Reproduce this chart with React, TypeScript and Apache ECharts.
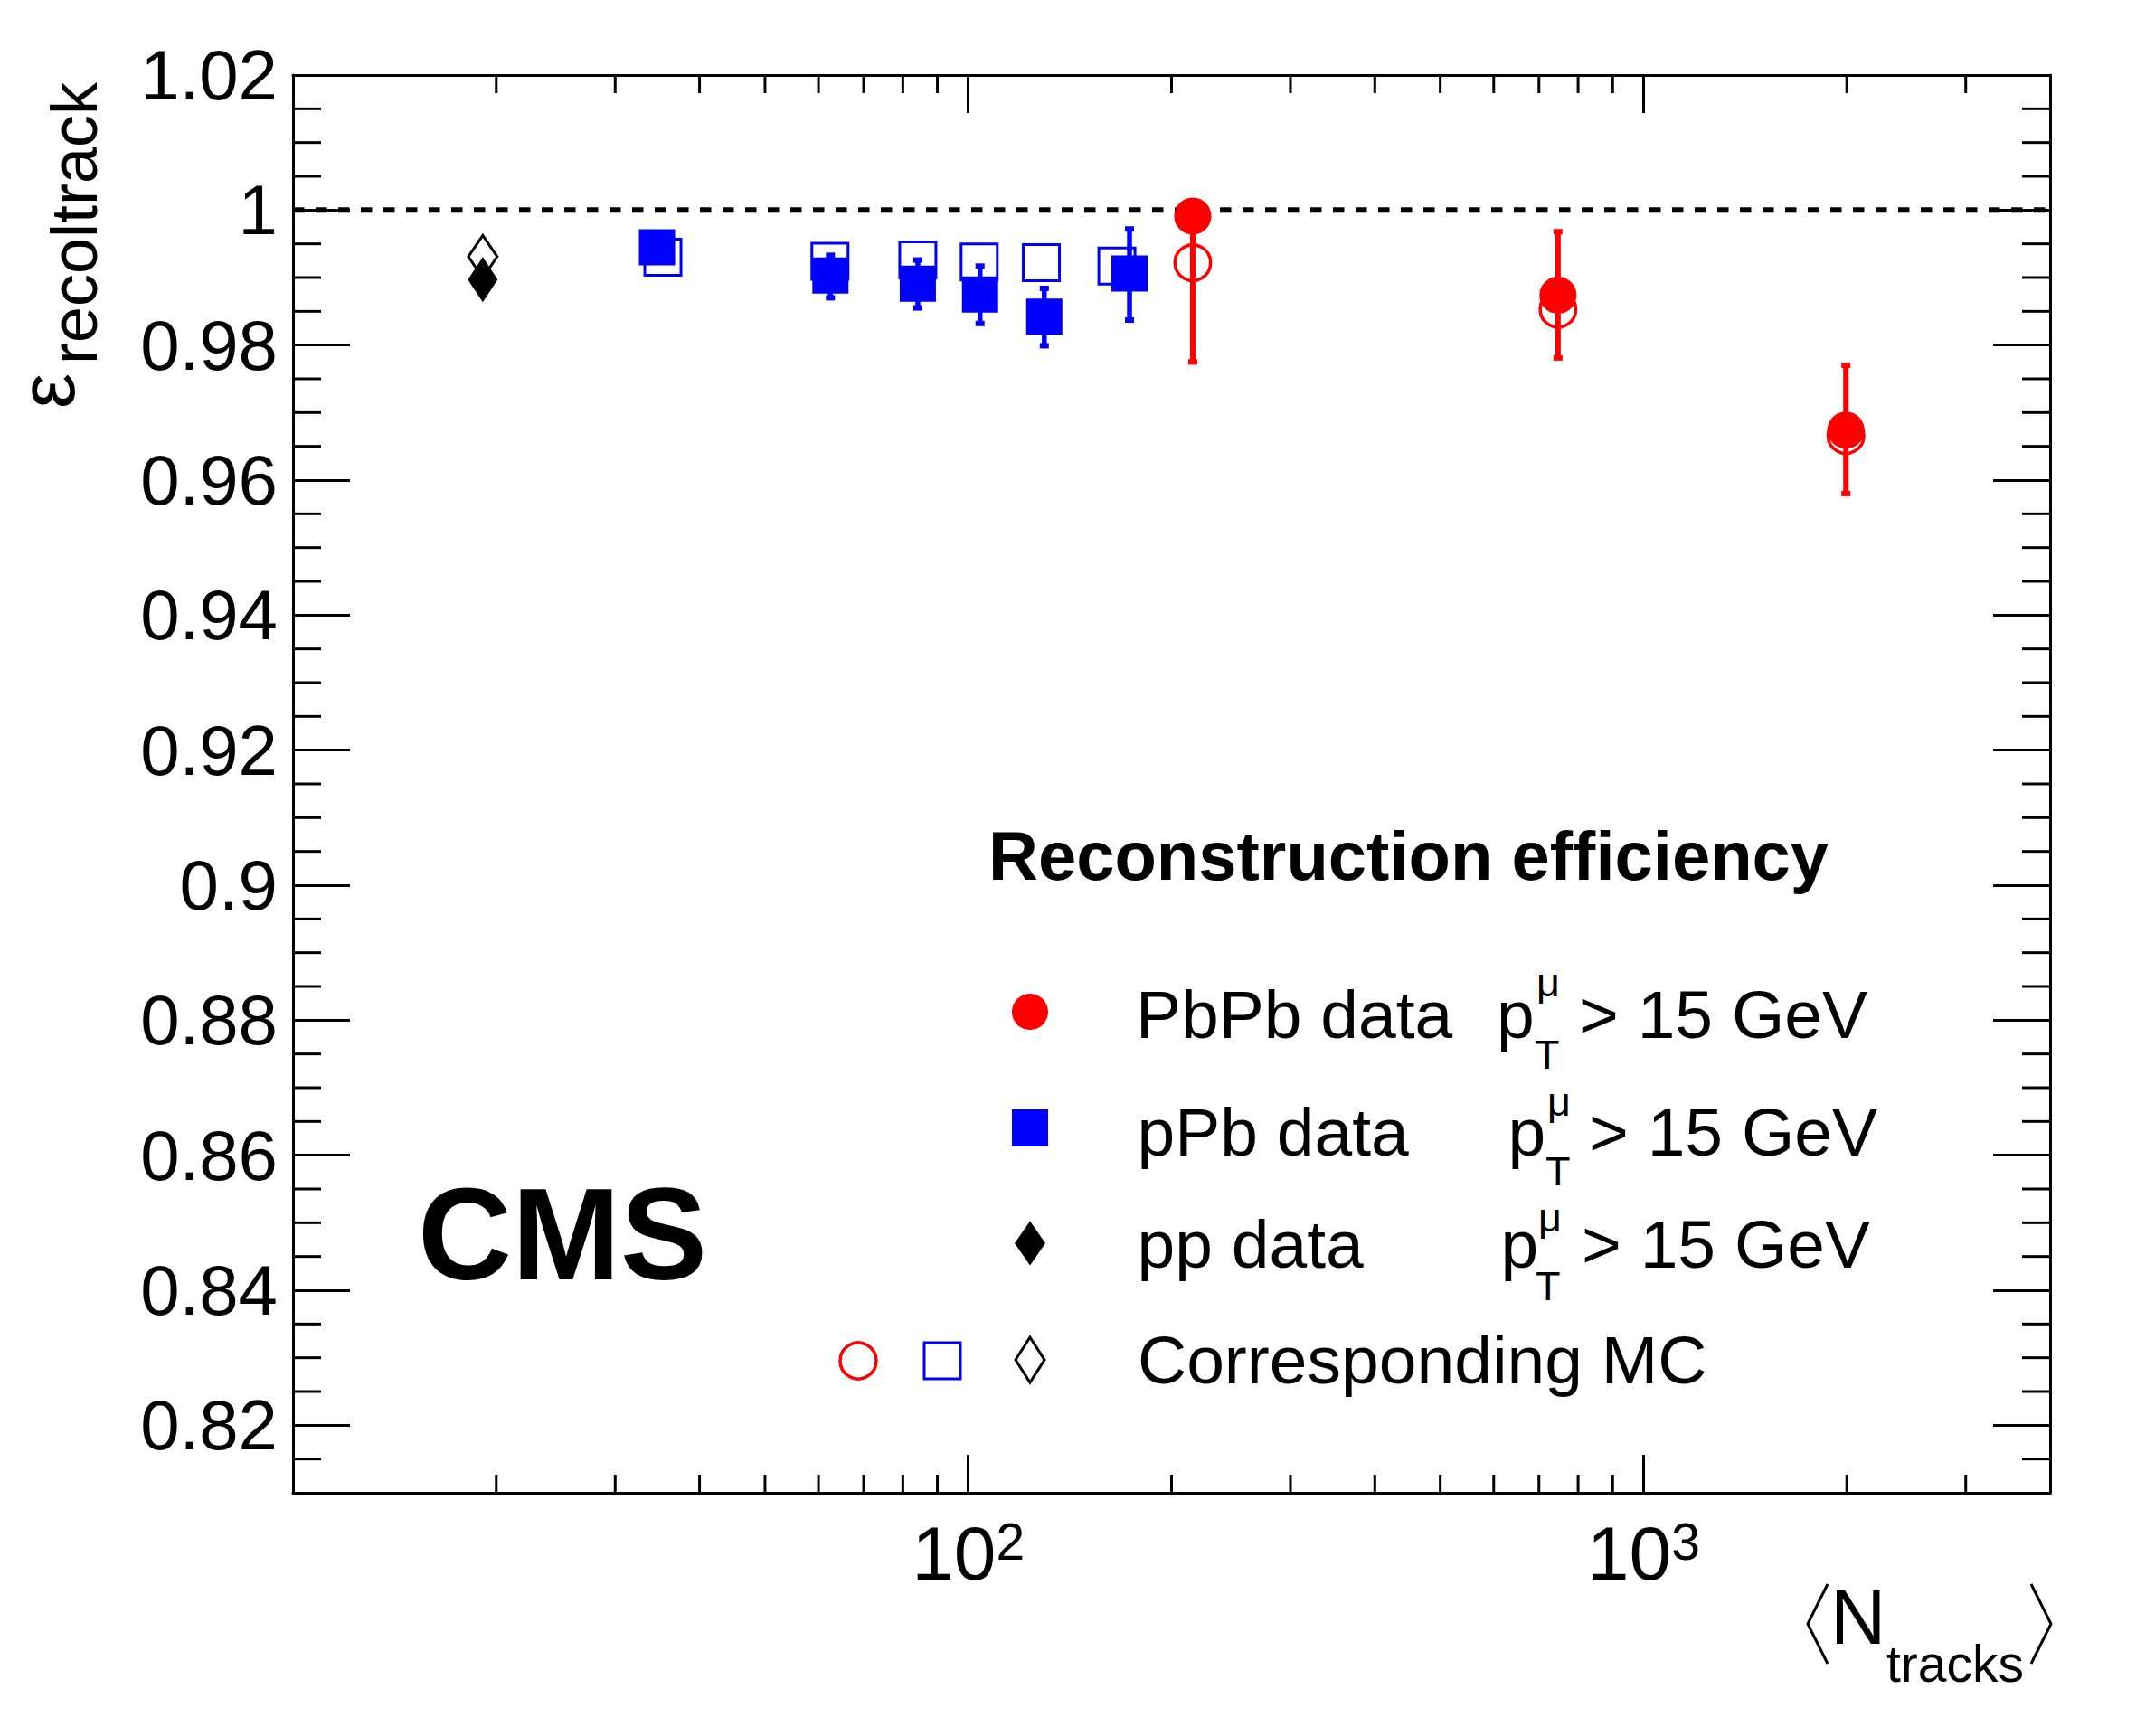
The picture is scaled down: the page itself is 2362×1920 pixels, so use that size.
import React, { useEffect, useRef } from 'react';
import * as echarts from 'echarts';

const FONT = "'Liberation Sans', Arial, Helvetica, sans-serif";

// ---- axis ranges & ticks ----
const xMin = 10;
const xMax = 4000;
const yMin = 0.81;
const yMax = 1.02;
const refLine = 1.0;
const xMinorTicks = [20, 30, 40, 50, 60, 70, 80, 90, 200, 300, 400, 500, 600, 700, 800, 900, 2000, 3000];
const yMajorTicks = [0.82, 0.84, 0.86, 0.88, 0.9, 0.92, 0.94, 0.96, 0.98, 1.0, 1.02];
const yMinorTicks: number[] = [];
for (let i = 163; i <= 203; i++) {
  if (i % 4 !== 0) yMinorTicks.push(Math.round(i * 5) / 1000);
}

// ---- data ----
const ppX = [19.1];
const ppY = [0.9897];
const ppMcY = [0.9931];

const pPbX = [34.6, 62.5, 84.2, 104.1, 129.6, 173.3];
const pPbY = [0.9945, 0.9903, 0.9891, 0.9875, 0.9842, 0.9906];
const pPbErrUp = [0, 0.003, 0.0035, 0.0042, 0.0042, 0.0066];
const pPbErrDown = [0, 0.0033, 0.0036, 0.0043, 0.0043, 0.0069];
const pPbMcX = [35.3, 62.4, 84.2, 103.8, 128.3, 166];
const pPbMcY = [0.993, 0.9924, 0.9926, 0.9923, 0.9922, 0.9917];

const PbPbX = [215, 747, 1994];
const PbPbY = [0.9991, 0.9874, 0.9674];
const PbPbErrUp = [0.0009, 0.0094, 0.0096];
const PbPbErrDown = [0.0216, 0.0093, 0.0094];
const PbPbMcY = [0.9922, 0.9853, 0.9666];

// ---- texts ----
const legendTitle = 'Reconstruction efficiency';
const legendLabels = ['PbPb data', 'pPb data', 'pp data', 'Corresponding MC'];
const cutLabel = '> 15 GeV';
const experiment = 'CMS';

const RED = '#ff0000';
const BLUE = '#0000ff';

function txt(text: string, x: number, base: number, size: number, extra: any = {}) {
  return {
    type: 'text',
    x,
    y: base - 0.3465 * size,
    z: 100,
    silent: true,
    style: {
      text,
      fontSize: size,
      fontFamily: FONT,
      fill: '#000',
      align: 'left',
      verticalAlign: 'middle',
      textAlign: 'left',
      textVerticalAlign: 'middle',
      ...extra,
    },
  };
}

function ptLabel(px: number, base: number, muX: number, muBase: number, tX: number, tBase: number, gtX: number) {
  return [
    txt('p', px, base, 75),
    txt('μ', muX, muBase, 45, { lineHeight: 36 }),
    txt('T', tX, tBase, 45, { lineHeight: 36 }),
    txt(cutLabel, gtX, base, 75),
  ];
}

function diamond(cx: number, cy: number, w: number, h: number) {
  return [
    [cx, cy - h / 2],
    [cx + w / 2, cy],
    [cx, cy + h / 2],
    [cx - w / 2, cy],
  ];
}

function errorBarSeries(xs: number[], ys: number[], up: number[], down: number[], color: string, width: number) {
  return {
    type: 'custom',
    silent: true,
    z: 4,
    clip: false,
    data: xs.map((x, i) => [x, ys[i], ys[i] - down[i], ys[i] + up[i]]),
    renderItem: (params: any, api: any) => {
      const x = api.value(0);
      const y = api.value(1);
      const lo = api.value(2);
      const hi = api.value(3);
      const pHi = api.coord([x, hi]);
      const pLo = api.coord([x, lo]);
      const children: any[] = [];
      if (hi - lo > 0) {
        children.push({
          type: 'line',
          shape: { x1: pHi[0], y1: pHi[1], x2: pLo[0], y2: pLo[1] },
          style: { stroke: color, lineWidth: width },
        });
        if (hi > y) children.push({ type: 'rect', shape: { x: pHi[0] - 5, y: pHi[1] - 3, width: 10, height: 6 }, style: { fill: color } });
        if (lo < y) children.push({ type: 'rect', shape: { x: pLo[0] - 5, y: pLo[1] - 3, width: 10, height: 6 }, style: { fill: color } });
      }
      return { type: 'group', children };
    },
  };
}

function fmtY(v: number) {
  return String(Math.round(v * 100) / 100);
}

function fmtX(v: number) {
  if (Math.abs(v - 100) < 1e-6) return '{b|10}{s|2}';
  if (Math.abs(v - 1000) < 1e-6) return '{b|10}{s|3}';
  return '';
}

export default function App() {
  const ref = useRef<HTMLDivElement>(null);

  useEffect(() => {
    if (!ref.current) return;
    const chart = echarts.init(ref.current, undefined, { renderer: 'svg' });

    const axisLine = { show: true, onZero: false, lineStyle: { color: '#000', width: 3 } };

    const graphic: any[] = [
      // y-axis title (rotated)
      { ...txt('ε', 0, 0, 88, { lineHeight: 60 }), x: 82 - 0.3465 * 88, y: 452, rotation: Math.PI / 2 },
      { ...txt('recoltrack', 0, 0, 72, { lineHeight: 60 }), x: 107 - 0.3465 * 72, y: 403, rotation: Math.PI / 2 },
      // x-axis title
      txt('N', 2024, 1818, 85),
      txt('tracks', 2086, 1860, 57),
      {
        type: 'polyline', z: 100, silent: true,
        shape: { points: [[2021, 1752], [1999, 1796], [2021, 1840]] },
        style: { stroke: '#000', lineWidth: 3, fill: 'none' },
      },
      {
        type: 'polyline', z: 100, silent: true,
        shape: { points: [[2246, 1752], [2268, 1796], [2246, 1840]] },
        style: { stroke: '#000', lineWidth: 3, fill: 'none' },
      },
      // CMS
      txt(experiment, 462, 1415, 144, { fontWeight: 'bold' }),
      // legend
      txt(legendTitle, 1093, 972.7, 76, { fontWeight: 'bold' }),
      txt(legendLabels[0], 1256, 1148, 75),
      ...ptLabel(1655, 1148, 1699, 1102, 1697, 1182, 1746),
      txt(legendLabels[1], 1257.5, 1277.7, 75),
      ...ptLabel(1667.5, 1277.7, 1711, 1234, 1709, 1311, 1757),
      txt(legendLabels[2], 1257.5, 1402.3, 75),
      ...ptLabel(1659.5, 1402.3, 1701, 1362, 1698, 1438, 1749),
      txt(legendLabels[3], 1258, 1530, 75),
      // legend markers
      { type: 'circle', z: 100, silent: true, shape: { cx: 1139, cy: 1119, r: 20 }, style: { fill: RED } },
      { type: 'rect', z: 100, silent: true, shape: { x: 1119, y: 1227, width: 40, height: 41 }, style: { fill: BLUE } },
      { type: 'polygon', z: 100, silent: true, shape: { points: diamond(1139, 1375, 34, 49) }, style: { fill: '#000' } },
      { type: 'circle', z: 100, silent: true, shape: { cx: 949, cy: 1505, r: 20 }, style: { fill: 'none', stroke: RED, lineWidth: 3.5 } },
      { type: 'rect', z: 100, silent: true, shape: { x: 1022, y: 1485, width: 40, height: 40 }, style: { fill: 'none', stroke: BLUE, lineWidth: 3 } },
      { type: 'polygon', z: 100, silent: true, shape: { points: diamond(1139, 1504, 32, 50) }, style: { fill: 'none', stroke: '#000', lineWidth: 3 } },
    ];

    const option: any = {
      animation: false,
      backgroundColor: '#fff',
      grid: { left: 324, top: 83, width: 1943, height: 1568, containLabel: false },
      xAxis: [
        {
          type: 'log', logBase: 10, min: xMin, max: xMax, position: 'bottom',
          axisLine,
          axisTick: { show: true, inside: true, length: 42, lineStyle: { color: '#000', width: 3 } },
          axisLabel: {
            show: true, margin: 25, color: '#000', formatter: fmtX,
            showMinLabel: false, showMaxLabel: false,
            rich: {
              b: { fontSize: 84, lineHeight: 84, fontFamily: FONT, color: '#000', padding: [15, 0, 0, 0], verticalAlign: 'bottom' },
              s: { fontSize: 57, lineHeight: 57, fontFamily: FONT, color: '#000', verticalAlign: 'top' },
            },
          },
          splitLine: { show: false },
          minorTick: { show: false },
        },
        {
          type: 'log', logBase: 10, min: xMin, max: xMax, position: 'top',
          axisLine,
          axisTick: { show: true, inside: true, length: 42, lineStyle: { color: '#000', width: 3 } },
          axisLabel: { show: false },
          splitLine: { show: false },
        },
      ],
      yAxis: [
        {
          type: 'value', min: yMin, max: yMax, position: 'left',
          axisLine,
          axisTick: { show: true, inside: true, length: 63, customValues: yMajorTicks, lineStyle: { color: '#000', width: 3 } },
          axisLabel: {
            show: true, margin: 17, customValues: yMajorTicks, formatter: fmtY,
            fontSize: 78, fontFamily: FONT, color: '#000',
          },
          splitLine: { show: false },
        },
        {
          type: 'value', min: yMin, max: yMax, position: 'right',
          axisLine,
          axisTick: { show: true, inside: true, length: 63, customValues: yMajorTicks, lineStyle: { color: '#000', width: 3 } },
          axisLabel: { show: false },
          splitLine: { show: false },
        },
      ],
      series: [
        // reference line at 1
        {
          type: 'line', silent: true, z: 2,
          data: [[xMin, refLine], [xMax, refLine]],
          symbol: 'none',
          lineStyle: { color: '#000', width: 6, type: [12.5, 12.5], opacity: 1 },
        },
        // MC markers
        {
          type: 'scatter', name: 'pp MC', silent: true, z: 3,
          data: ppX.map((x, i) => [x, ppMcY[i]]),
          symbol: 'diamond', symbolSize: [32, 47],
          itemStyle: { color: 'rgba(0,0,0,0)', borderColor: '#000', borderWidth: 3, opacity: 1 },
        },
        {
          type: 'scatter', name: 'pPb MC', silent: true, z: 3,
          data: pPbMcX.map((x, i) => [x, pPbMcY[i]]),
          symbol: 'rect', symbolSize: 40,
          itemStyle: { color: 'rgba(0,0,0,0)', borderColor: BLUE, borderWidth: 3, opacity: 1 },
        },
        {
          type: 'scatter', name: 'PbPb MC', silent: true, z: 3,
          data: PbPbX.map((x, i) => [x, PbPbMcY[i]]),
          symbol: 'circle', symbolSize: 39.5,
          itemStyle: { color: 'rgba(0,0,0,0)', borderColor: RED, borderWidth: 3.5, opacity: 1 },
        },
        // error bars
        errorBarSeries(pPbX, pPbY, pPbErrUp, pPbErrDown, BLUE, 5.5),
        errorBarSeries(PbPbX, PbPbY, PbPbErrUp, PbPbErrDown, RED, 6),
        // data markers
        {
          type: 'scatter', name: 'pp data', silent: true, z: 5,
          data: ppX.map((x, i) => [x, ppY[i]]),
          symbol: 'diamond', symbolSize: [33, 50],
          itemStyle: { color: '#000', opacity: 1 },
        },
        {
          type: 'scatter', name: 'pPb data', silent: true, z: 5,
          data: pPbX.map((x, i) => [x, pPbY[i]]),
          symbol: 'rect', symbolSize: 40,
          itemStyle: { color: BLUE, opacity: 1 },
        },
        {
          type: 'scatter', name: 'PbPb data', silent: true, z: 5,
          data: PbPbX.map((x, i) => [x, PbPbY[i]]),
          symbol: 'circle', symbolSize: 41,
          itemStyle: { color: RED, opacity: 1 },
        },
        // minor ticks on x (bottom & top)
        {
          type: 'custom', silent: true, z: 6, clip: false,
          data: xMinorTicks.map((v) => [v, 0.9]),
          renderItem: (params: any, api: any) => {
            const cs = params.coordSys;
            const x = api.coord([api.value(0), 0.9])[0];
            const st = { stroke: '#000', lineWidth: 3 };
            return {
              type: 'group',
              children: [
                { type: 'line', shape: { x1: x, y1: cs.y + cs.height, x2: x, y2: cs.y + cs.height - 20 }, style: st },
                { type: 'line', shape: { x1: x, y1: cs.y, x2: x, y2: cs.y + 20 }, style: st },
              ],
            };
          },
        },
        // minor ticks on y (left & right)
        {
          type: 'custom', silent: true, z: 6, clip: false,
          data: yMinorTicks.map((v) => [100, v]),
          renderItem: (params: any, api: any) => {
            const cs = params.coordSys;
            const y = api.coord([100, api.value(1)])[1];
            const st = { stroke: '#000', lineWidth: 3 };
            return {
              type: 'group',
              children: [
                { type: 'line', shape: { x1: cs.x, y1: y, x2: cs.x + 31, y2: y }, style: st },
                { type: 'line', shape: { x1: cs.x + cs.width, y1: y, x2: cs.x + cs.width - 31, y2: y }, style: st },
              ],
            };
          },
        },
      ],
      graphic,
    };

    chart.setOption(option);
    return () => chart.dispose();
  }, []);

  return <div ref={ref} style={{ position: 'absolute', left: 0, top: 0, width: 2362, height: 1920, background: '#fff' }} />;
}
